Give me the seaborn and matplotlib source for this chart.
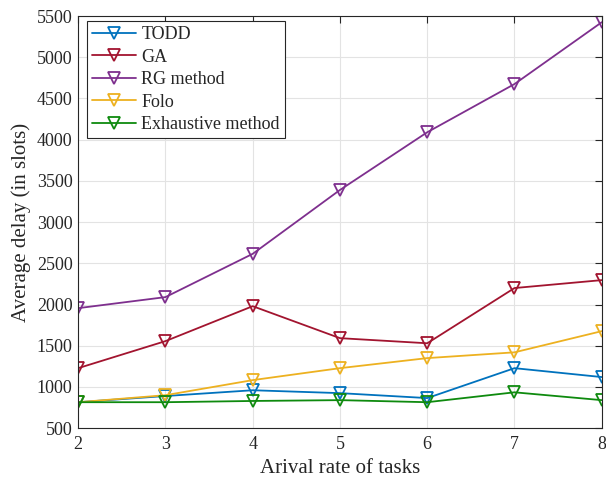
import numpy as np
import pandas as pd
import seaborn as sns
import matplotlib.pyplot as plt

rates = [2, 3, 4, 5, 6, 7, 8]
todd = [815, 890, 960, 925, 865, 1228, 1120]
ga = [1228, 1556, 1980, 1592, 1530, 2200, 2296]
rg = [1956, 2090, 2615, 3390, 4090, 4675, 5425]
folo = [815, 900, 1083, 1228, 1350, 1420, 1677]
exhaustive = [815, 815, 830, 840, 815, 935, 840]

names = ['TODD', 'GA', 'RG method', 'Folo', 'Exhaustive method']
colors = ['#0072BD', '#A2142F', '#7E2F8E', '#EDB120', '#0E8A0E']

df = pd.DataFrame({'rate': rates, 'TODD': todd, 'GA': ga, 'RG method': rg,
                   'Folo': folo, 'Exhaustive method': exhaustive})
long = df.melt(id_vars='rate', var_name='method', value_name='delay')

sns.set_style('whitegrid')
plt.rcParams['font.family'] = ['Liberation Serif', 'DejaVu Serif']

fig = plt.figure(figsize=(6.06, 4.86), dpi=100)
ax = fig.add_axes([0.129, 0.119, 0.864, 0.848])

for name, c in zip(names, colors):
    sns.lineplot(data=long[long['method'] == name], x='rate', y='delay', ax=ax,
                 color=c, label=name, marker='v', markersize=9,
                 markerfacecolor='none', markeredgecolor=c, markeredgewidth=1.3,
                 linewidth=1.3)

ax.set_xlim(2, 8)
ax.set_ylim(500, 5500)
ax.set_xticks(rates)
ax.set_yticks(np.arange(500, 5501, 500))
ax.grid(True, color='#e3e3e3', linewidth=0.8)
for s in ax.spines.values():
    s.set_color('#262626')
    s.set_linewidth(0.8)
ax.tick_params(direction='in', top=True, right=True, length=5, width=0.8,
               labelsize=13, colors='#262626', pad=4)
ax.tick_params(axis='x', pad=6)
ax.set_xlabel('Arival rate of tasks', fontsize=15, color='#262626')
ax.set_ylabel('Average delay (in slots)', fontsize=15, color='#262626')

leg = ax.legend(loc='upper left', bbox_to_anchor=(0.017, 0.988), borderaxespad=0,
                fontsize=13, frameon=True, fancybox=False,
                edgecolor='#262626', framealpha=1, borderpad=0.3,
                labelspacing=0.3, handlelength=2.4, handletextpad=0.3)
leg.get_frame().set_linewidth(0.8)

fig.savefig('out.png', dpi=100)
